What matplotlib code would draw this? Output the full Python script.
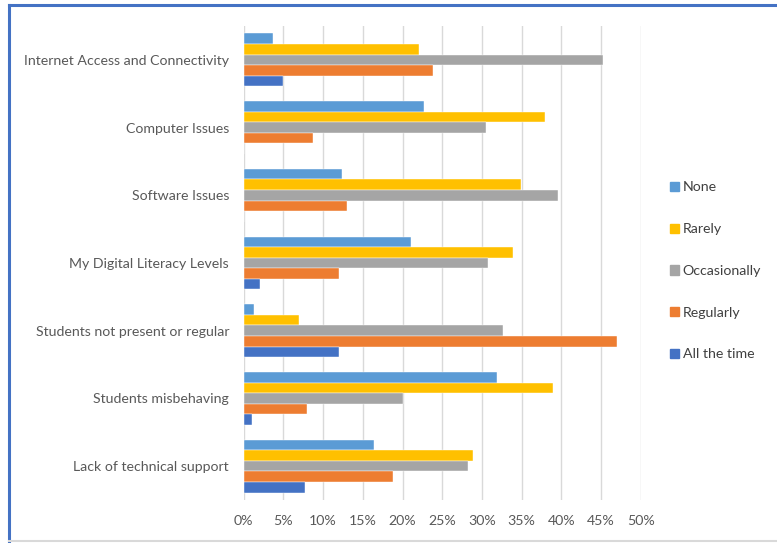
import numpy as np
import matplotlib.pyplot as plt
from matplotlib.lines import Line2D
from matplotlib.ticker import PercentFormatter

plt.rcParams['font.family'] = ['Lato', 'DejaVu Sans']

categories = ['Internet Access and Connectivity', 'Computer Issues', 'Software Issues',
              'My Digital Literacy Levels', 'Students not present or regular',
              'Students misbehaving', 'Lack of technical support']
series = ['None', 'Rarely', 'Occasionally', 'Regularly', 'All the time']

none_vals = [3.7, 22.7, 12.4, 21.1, 1.3, 31.9, 16.4]
rarely_vals = [22.1, 37.9, 34.9, 33.9, 7.0, 39.0, 28.9]
occasionally_vals = [45.3, 30.5, 39.6, 30.8, 32.6, 20.1, 28.2]
regularly_vals = [23.8, 8.7, 13.0, 12.0, 47.0, 8.0, 18.8]
all_time_vals = [5.0, 0.0, 0.0, 2.0, 12.0, 1.0, 7.7]

values = [none_vals, rarely_vals, occasionally_vals, regularly_vals, all_time_vals]
colors = ['#5B9BD5', '#FFC000', '#A5A5A5', '#ED7D31', '#4472C4']

fig = plt.figure(figsize=(7.77, 5.43), dpi=100)
ax = fig.add_axes([0.3136, 0.0792, 0.5111, 0.8729])

n = len(series)
h = 0.78 / n
y = np.arange(len(categories))
for i, (name, vals, c) in enumerate(zip(series, values, colors)):
    offs = (i - (n - 1) / 2) * h
    ax.barh(y + offs, np.array(vals) / 100, height=h, color=c, label=name,
            edgecolor='white', linewidth=0.3)

ax.set_ylim(len(categories) - 0.5, -0.5)
ax.set_xlim(0, 0.5)
ax.set_xticks(np.arange(0, 0.51, 0.05))
ax.xaxis.set_major_formatter(PercentFormatter(1.0, decimals=0))
ax.set_yticks(y)
ax.set_yticklabels(categories)
ax.tick_params(axis='both', length=0, labelsize=10.2, colors='#595959')
ax.tick_params(axis='y', pad=10.5)
ax.tick_params(axis='x', pad=11)
ax.grid(axis='x', color='#D9D9D9', linewidth=1)
ax.set_axisbelow(True)
for s in ax.spines.values():
    s.set_visible(False)

handles = [plt.Rectangle((0, 0), 1, 1, color=c) for c in colors]
fig.legend(handles, series, loc='center left', bbox_to_anchor=(0.846, 0.501),
           frameon=False, handlelength=0.65, handleheight=0.65, handletextpad=0.25,
           labelspacing=2.1, fontsize=10.2, labelcolor='#404040')

# frame around the figure
fig.add_artist(Line2D([9 / 777, 1], [1 - 5 / 543, 1 - 5 / 543], color='#4472C4',
                      linewidth=2.2, transform=fig.transFigure))
fig.add_artist(Line2D([9 / 777, 9 / 777], [0, 1 - 5 / 543], color='#4472C4',
                      linewidth=2.2, transform=fig.transFigure))
fig.add_artist(Line2D([9 / 777, 1], [2 / 543, 2 / 543], color='#D9D9D9',
                      linewidth=1.5, transform=fig.transFigure))

fig.savefig('out.png', dpi=100)
